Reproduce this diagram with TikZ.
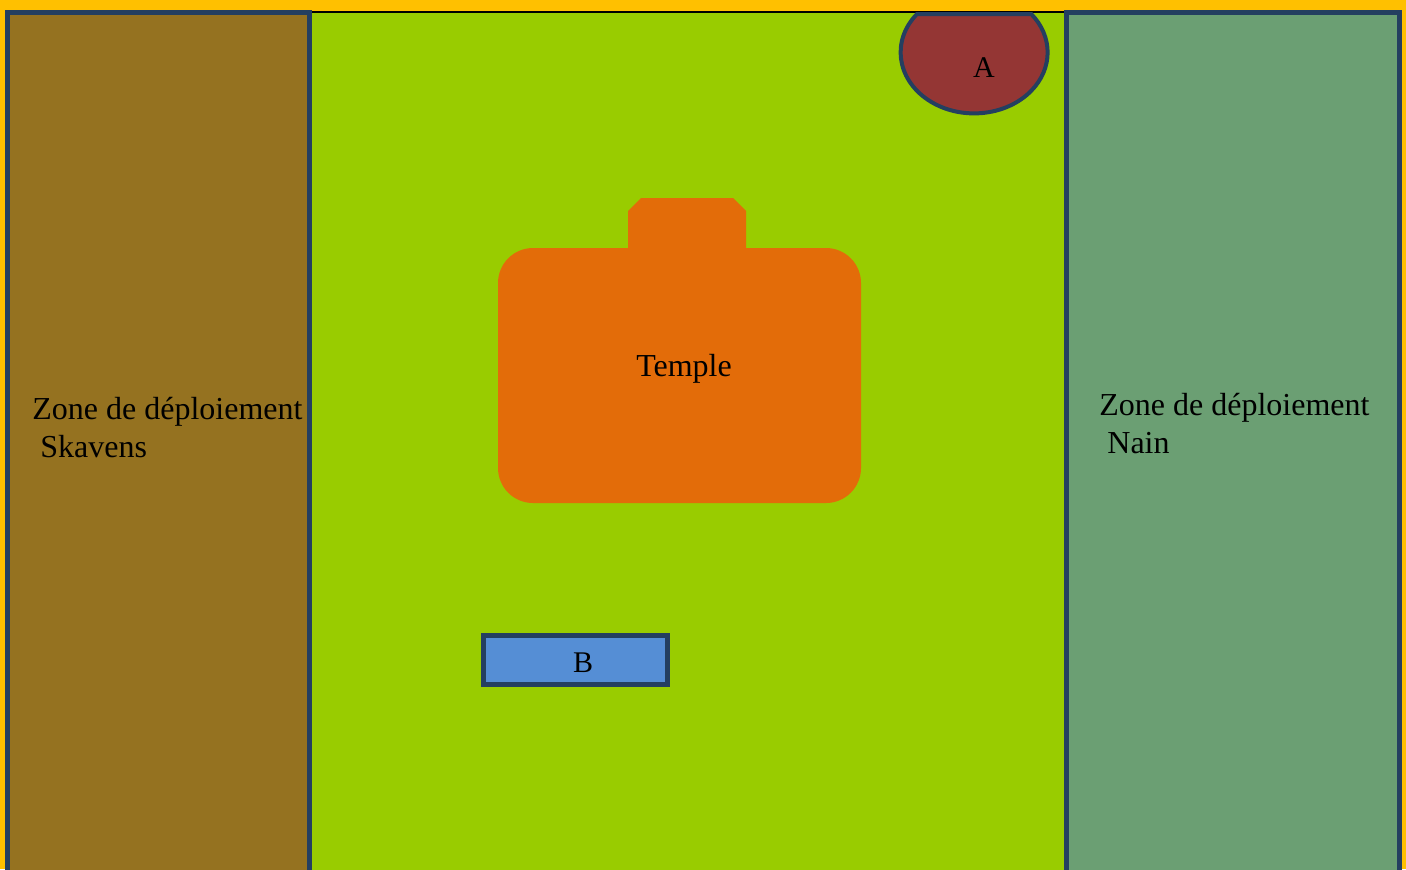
\documentclass[tikz,border=0pt]{standalone}
\usepackage{fontspec}
\setmainfont{Liberation Serif}
\usetikzlibrary{positioning}
\definecolor{jaune}{HTML}{FFC000}
\definecolor{herbe}{HTML}{99CC00}
\definecolor{brun}{HTML}{957220}
\definecolor{vertgris}{HTML}{6B9F73}
\definecolor{bord}{HTML}{243F60}
\definecolor{rouge}{HTML}{943634}
\definecolor{orangetemple}{HTML}{E36C09}
\definecolor{bleu}{HTML}{558ED5}
\tikzset{
  zone/.style={draw=bord, line width=2.5pt},
  zonetexte/.style={anchor=west, align=left, inner sep=0pt,
    font=\fontsize{16pt}{19pt}\selectfont},
  lettre/.style={inner sep=0pt, font=\fontsize{15pt}{18pt}\selectfont}
}

\begin{document}
\begin{tikzpicture}[x=0.5pt,y=-0.5pt]

\useasboundingbox (0,0) rectangle (1406,869);
\clip (0,0) rectangle (1406,869);
\fill[jaune] (0,0) rectangle (1406,869);

% terrain
\fill[herbe] (310,12) rectangle (1066,880);
\draw[black, line width=0.75pt] (310,12) -- (1066,12);

% zones de deploiement
\draw[zone, fill=brun] (7.5,12) rectangle (309.5,880);
\draw[zone, fill=vertgris] (1066.5,12) rectangle (1399.5,880);

\node[zonetexte] (skavens) at (32,428) {Zone de déploiement\\\hspace*{4pt}Skavens};
\node[zonetexte] (nain) at (1099,424) {Zone de déploiement\\\hspace*{4pt}Nain};

% objectif A
\draw[bord, line width=2pt, fill=rouge] (917,14)
  arc[start angle=141, end angle=399, x radius=36.75pt, y radius=30.5pt] -- cycle;
\node[lettre] (a) at (984,67.5) {A};

% temple
\fill[orangetemple, rounded corners=17.5pt] (498,248) rectangle (861,503);
\fill[orangetemple] (628,250) -- (628,211) -- (641,198) -- (733,198) -- (746,211) -- (746,250) -- cycle;
\node[zonetexte, anchor=center] (temple) at (684,369) {Temple};

% objectif B
\draw[zone, fill=bleu] (483.5,635.5) rectangle (667.5,684.5);
\node[lettre] (b) at (583,662.5) {B};

\end{tikzpicture}
\end{document}
